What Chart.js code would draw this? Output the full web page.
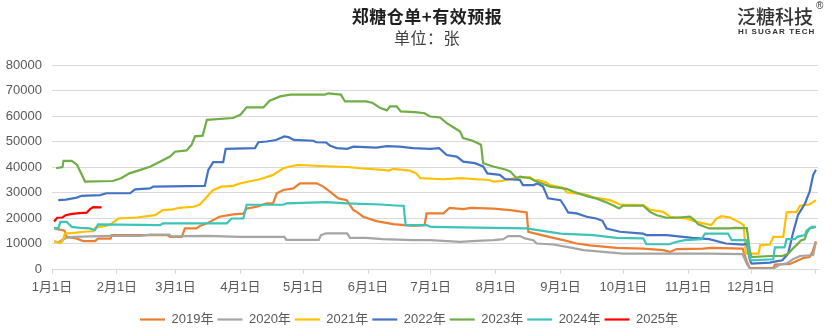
<!DOCTYPE html>
<html>
<head>
<meta charset="utf-8">
<script src="https://cdn.jsdelivr.net/npm/chart.js@4"></script>
<style>
    body { margin: 0; background: #fff; }
    #wrap { position: relative; width: 832px; height: 336px; }
    .title { position: absolute; left: 0; width: 854px; text-align: center; font-family: "Noto Sans CJK SC"; color: #1f1f1f; }
    #t1 { top: 3px; font-size: 17px; font-weight: 700; letter-spacing: 0.5px; }
    #t2 { top: 25px; font-size: 16px; color: #404040; letter-spacing: 0.5px; }
    #logo { position: absolute; left: 737px; top: 2px; font-family: "Noto Sans CJK SC"; font-size: 19px; font-weight: 500; color: #333; }
    #logo-en { position: absolute; left: 738px; top: 27px; font-family: "Liberation Sans"; font-size: 8px; font-weight: 700; color: #333; letter-spacing: 1.1px; }
    #reg { position: absolute; left: 816px; top: 0px; font-family: "Liberation Sans"; font-size: 10px; color: #333; }
</style>
</head>
<body>
<div id="wrap">
    <canvas id="chart" width="832" height="336"></canvas>
    <div class="title" id="t1">郑糖仓单+有效预报</div>
    <div class="title" id="t2">单位：张</div>
    <div id="logo">泛糖科技</div>
    <div id="reg">®</div>
    <div id="logo-en">HI SUGAR TECH</div>
</div>
<script>
// Axis ticks (day of year)
const monthDays = [0, 31, 59, 90, 120, 151, 181, 212, 243, 273, 304, 334, 365];
const monthLabels = ['1月1日', '2月1日', '3月1日', '4月1日', '5月1日', '6月1日', '7月1日', '8月1日', '9月1日', '10月1日', '11月1日', '12月1日', ''];

// Series: day of year / value (张)
const days2019 = [1, 6, 7, 12, 15, 20.5, 22, 28, 28.5, 55, 56.4, 62, 63.5, 69, 70.7, 74, 80, 86.6, 91.4, 93, 97.8, 102.6, 105.6, 107.4, 110.5, 115.3, 118.5, 126.5, 129.6, 132.8, 136.8, 140.8, 144, 145.6, 148.7, 155, 163, 172.6, 178, 179, 187, 190, 196.5, 200, 211, 219, 226.8, 227.6, 233, 239.5, 244.3, 250.7, 257, 269.8, 282.5, 292, 295.3, 298.5, 311, 315, 330, 332, 333.5, 344.6, 345.4, 352.6, 355, 359, 362, 363.4, 365];
const vals2019 = [15900, 15000, 12600, 11900, 10900, 10900, 11900, 11900, 13300, 13300, 12600, 12600, 15900, 15900, 16900, 17900, 20500, 21400, 21700, 23700, 24400, 25700, 25700, 29700, 31000, 31600, 33600, 33600, 32300, 30300, 27700, 27000, 23100, 22400, 20500, 18800, 17600, 16900, 17200, 21800, 21800, 24000, 23500, 24000, 23700, 23100, 22200, 14600, 13500, 12200, 11300, 10000, 9300, 8300, 8000, 7400, 6700, 7800, 8000, 8300, 8000, 2800, 400, 400, 1700, 2000, 2800, 4300, 4700, 6700, 10900];

const days2020 = [1, 3, 5.4, 7, 10, 27.7, 42, 46.8, 56, 57, 74, 90, 99.4, 111, 112, 127.5, 128.5, 131, 141, 142.4, 150, 158, 172.5, 180.6, 195, 203, 211, 215.6, 218, 223.6, 226, 230, 231.6, 239.5, 246, 254, 263.4, 273, 314, 330, 332, 333.5, 344.6, 347.8, 351, 354, 357.4, 363.7, 365];
const vals2020 = [10900, 10500, 11700, 12200, 12600, 13000, 13000, 13500, 13500, 12800, 13000, 12600, 12600, 12600, 11400, 11400, 13300, 14000, 14000, 12200, 12200, 11700, 11300, 11300, 10600, 11000, 11300, 11700, 12900, 12900, 12000, 11300, 10000, 9600, 8700, 7400, 6700, 6000, 6000, 5800, 2000, 100, 100, 1700, 2200, 3800, 5100, 5500, 10600];

const days2021 = [1, 3.8, 5, 6.2, 11.8, 15, 19.7, 20.5, 26, 28, 31.7, 40.5, 49.2, 53, 57.7, 61, 67.5, 70.7, 74, 77, 81, 86.6, 90, 94, 99.4, 105.7, 108, 110.5, 113.7, 117.7, 128, 141, 147, 158, 161, 163, 171, 174, 176, 187, 195, 203, 209, 211, 215, 222, 228.4, 230.8, 232, 236, 238, 244, 246, 255.5, 258.5, 266.6, 271.4, 282.5, 285.7, 292, 295.3, 303, 308, 315, 317.5, 320, 324, 328.7, 330.5, 331.5, 337.6, 338.4, 343, 344.7, 349.4, 351, 355.8, 357.4, 362, 365];
const vals2021 = [10900, 10200, 10900, 13900, 14300, 14600, 14800, 16100, 17000, 17500, 19800, 20200, 21100, 23100, 23400, 24000, 24400, 25300, 28300, 31000, 32300, 32600, 33600, 34300, 35200, 36900, 38200, 39500, 40200, 40800, 40400, 40000, 39500, 38900, 38600, 39300, 38600, 37500, 35600, 35200, 35600, 35200, 34900, 34300, 34500, 35800, 36000, 34500, 34900, 34000, 32900, 31900, 30100, 29100, 28100, 27000, 25300, 25100, 23300, 22400, 20500, 19800, 18500, 17200, 19800, 20700, 20200, 18200, 17200, 6000, 6000, 9300, 9600, 12600, 12600, 22200, 22400, 24800, 25300, 27000];

const days2022 = [3, 6.6, 11.8, 14.2, 23, 26, 37.3, 39.7, 46.8, 48.4, 73, 74.7, 77, 81.8, 83, 97, 98.6, 102.6, 107, 111, 113, 115.6, 124.8, 126.4, 131, 133, 136, 141, 144, 155, 160, 166, 172.5, 180.6, 185, 188.6, 193.4, 196.5, 202, 206, 208, 214, 216.4, 223.6, 225, 230, 232, 234.6, 237, 243, 245, 246.6, 250.7, 255.5, 260, 263, 265, 271.4, 282.4, 284, 293.7, 301.5, 306, 314, 322, 330, 332, 333.5, 334.3, 343, 346, 349, 351.7, 354, 356.4, 359.8, 362, 363.7, 365];
const vals2022 = [27000, 27200, 28000, 28700, 29000, 29700, 29700, 31200, 31600, 32300, 32600, 38900, 41900, 41900, 47100, 47400, 49700, 50000, 50600, 52000, 51700, 50600, 50300, 49700, 49600, 48300, 47400, 47100, 48000, 47600, 48200, 48000, 47400, 47100, 47400, 44700, 44100, 42100, 41500, 40200, 37500, 36900, 35300, 34900, 32900, 32900, 33500, 32300, 27700, 27000, 24400, 22200, 21800, 20500, 19800, 18900, 15900, 14600, 13900, 13300, 13300, 12600, 12200, 11700, 10000, 9600, 10000, 3400, 2100, 2500, 3000, 3400, 6000, 13900, 21100, 25700, 30300, 36900, 38900];

const days2023 = [2, 5, 5.5, 9.4, 12, 15.8, 29, 33, 37, 40.4, 46.8, 51.6, 56.4, 58.8, 64.3, 66.7, 68.3, 72, 74, 86.5, 90, 93, 101, 102, 104, 109, 114, 130.4, 132, 138, 140, 150, 153, 157, 160, 161.5, 164.7, 166.6, 173.5, 178, 180.6, 185.4, 188.6, 192.5, 195, 196.4, 201, 205, 206, 210.8, 217, 219, 222, 223.6, 228.4, 231.6, 238, 246, 249, 255.5, 260, 265, 268, 271, 272.7, 282.5, 285.7, 289, 293.7, 298, 304.8, 307, 308.8, 314, 324, 326, 332, 333.5, 334.3, 343, 349, 351.7, 354, 358, 359.6, 360.5, 362, 365];
const vals2023 = [39500, 40000, 42400, 42400, 40800, 34300, 34500, 35600, 37500, 38400, 40100, 42100, 44100, 46000, 46500, 48700, 52000, 52300, 58500, 59200, 60500, 63400, 63400, 64200, 66000, 67700, 68400, 68400, 68900, 68400, 65700, 65700, 65200, 63100, 62200, 63800, 63800, 61800, 61500, 61100, 59800, 59400, 57200, 55200, 53900, 51300, 50300, 48700, 41500, 40200, 38900, 38200, 35600, 36200, 35600, 34300, 32300, 31400, 30400, 28600, 27700, 26100, 25000, 23700, 24800, 24800, 22400, 21100, 20100, 20100, 20500, 19200, 17500, 15900, 15900, 16100, 16000, 6700, 4700, 5100, 5100, 6000, 8000, 11300, 11600, 13900, 15900, 16500];

const days2024 = [1, 3, 4, 7, 9.4, 13.4, 18, 20.5, 22, 51.6, 53, 83.5, 85.8, 91.4, 93, 110.5, 112, 131, 141, 157, 166, 168, 169, 179, 181, 203, 226.8, 243, 258.6, 269.8, 282.5, 284, 295, 298, 302.5, 310.4, 312, 323, 324.8, 332, 333.5, 334, 344.6, 345.4, 350, 351, 355, 356, 359.8, 360.5, 363, 365];
const vals2024 = [16100, 15900, 18500, 18500, 16500, 16100, 15900, 15200, 17500, 17200, 17900, 17900, 19800, 19800, 25200, 25200, 25700, 26200, 25700, 25300, 24800, 24800, 17200, 17200, 16500, 16200, 15900, 13900, 13300, 12200, 12000, 9700, 9700, 10600, 11300, 11700, 13900, 13900, 11300, 11300, 4100, 3400, 3800, 8500, 8500, 11700, 11700, 12600, 13300, 15000, 16500, 16500];

const days2025 = [1, 2.5, 5, 6.5, 9, 11.8, 16.6, 18.2, 19.7, 23.7];
const vals2025 = [18600, 20100, 20200, 21100, 21500, 21800, 22100, 23500, 24300, 24200];

const seriesNames = ['2019年', '2020年', '2021年', '2022年', '2023年', '2024年', '2025年'];
const seriesColors = ['#ED7D31', '#A5A5A5', '#FFC000', '#4472C4', '#70AD47', '#3CC4B8', '#FF0000'];
const seriesDays = [days2019, days2020, days2021, days2022, days2023, days2024, days2025];
const seriesVals = [vals2019, vals2020, vals2021, vals2022, vals2023, vals2024, vals2025];

const datasets = seriesNames.map((name, i) => ({
    label: name,
    data: seriesDays[i].map((d, j) => ({ x: d, y: seriesVals[i][j] })),
    borderColor: seriesColors[i],
    backgroundColor: seriesColors[i],
    borderWidth: 2.2,
    pointRadius: 0,
    fill: false,
    tension: 0,
    // later years drawn on top
    order: seriesNames.length - i
}));

const fontFamily = '"Liberation Sans", "Noto Sans CJK SC", sans-serif';

new Chart(document.getElementById('chart'), {
    type: 'line',
    data: { datasets: datasets },
    options: {
        responsive: false,
        animation: false,
        layout: { padding: { top: 65, right: 14, left: 0, bottom: 0 } },
        plugins: {
            tooltip: { enabled: false },
            legend: {
                position: 'bottom',
                labels: {
                    usePointStyle: true,
                    pointStyle: 'line',
                    pointStyleWidth: 25,
                    color: '#595959',
                    font: { family: fontFamily, size: 13 },
                    padding: 4,
                    sort: (a, b) => a.datasetIndex - b.datasetIndex
                }
            }
        },
        scales: {
            x: {
                type: 'linear',
                min: 0,
                max: 366,
                afterBuildTicks: (scale) => {
                    scale.ticks = monthDays.map(v => ({ value: v }));
                },
                afterFit: (scale) => { scale.height = 40; },
                ticks: {
                    autoSkip: false,
                    maxRotation: 0,
                    padding: 6,
                    color: '#595959',
                    font: { family: fontFamily, size: 13 },
                    callback: (v) => monthLabels[monthDays.indexOf(v)]
                },
                grid: { drawOnChartArea: false, drawTicks: true, tickLength: 5, color: '#d9d9d9' },
                border: { color: '#d9d9d9' }
            },
            y: {
                min: 0,
                max: 80000,
                afterFit: (scale) => { scale.width = 52; },
                ticks: {
                    stepSize: 10000,
                    padding: 10,
                    color: '#595959',
                    font: { family: fontFamily, size: 13 },
                    callback: (v) => String(v)
                },
                grid: { color: '#d9d9d9', drawTicks: false },
                border: { display: false }
            }
        }
    }
});
</script>
</body>
</html>
